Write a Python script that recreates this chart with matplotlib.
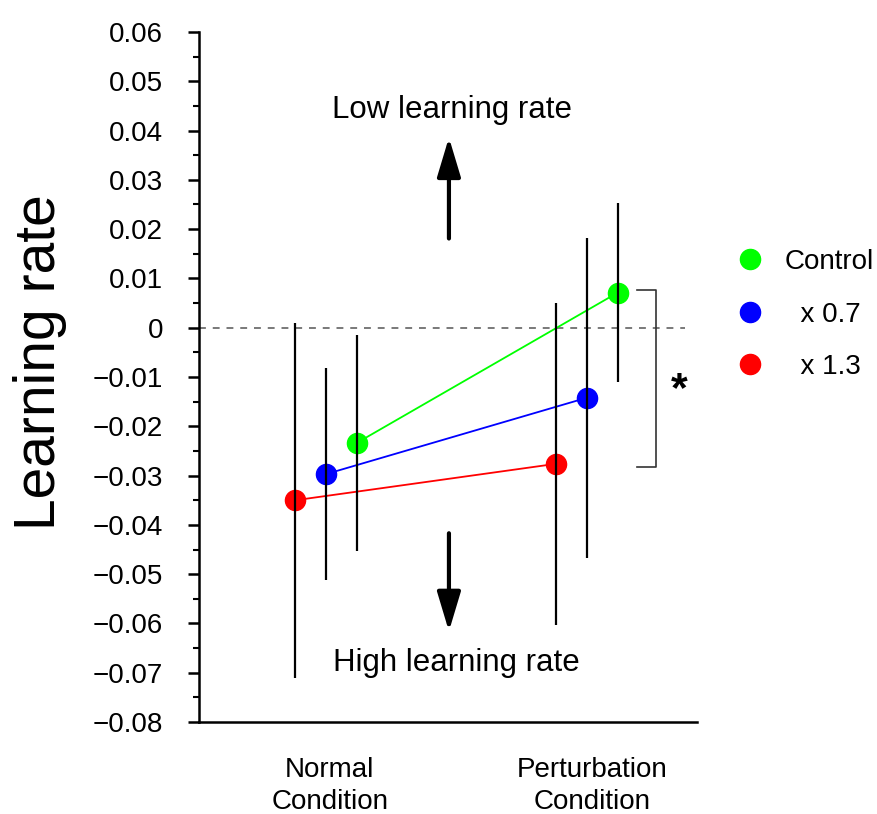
import matplotlib
matplotlib.use('Agg')
import matplotlib.pyplot as plt
from matplotlib.ticker import MultipleLocator, FuncFormatter
from matplotlib.lines import Line2D

plt.rcParams['font.family'] = ['Liberation Sans', 'DejaVu Sans']

# values
conditions = ['Normal\nCondition', 'Perturbation\nCondition']
groups = ['Control', 'x 0.7', 'x 1.3']
colors = ['#00ff00', '#0000ff', '#ff0000']

control_mean = [-0.0234, 0.0071]
control_err = [0.0220, 0.0182]
x07_mean = [-0.0297, -0.0142]
x07_err = [0.0215, 0.0325]
x13_mean = [-0.0350, -0.0276]
x13_err = [0.0360, 0.0327]

means = [control_mean, x07_mean, x13_mean]
errs = [control_err, x07_err, x13_err]
offsets = [0.117, 0.0, -0.117]


def fmt_tick(v, pos):
    if abs(v) < 1e-9:
        return '0'
    return f'{v:.2f}'.replace('-', '\u2212')


fig = plt.figure(figsize=(8.77, 8.14), dpi=100)
ax = fig.add_axes([0.2269, 0.113, 0.5679, 0.8477])

base = [1, 2]
for mean, err, off, col, name in zip(means, errs, offsets, colors, groups):
    xs = [b + off for b in base]
    ax.plot(xs, mean, '-o', color=col, ms=14.5, lw=1.3, zorder=2, label=name)
    ax.errorbar(xs, mean, yerr=err, fmt='none', ecolor='black',
                elinewidth=1.6, capsize=0, zorder=3)

# zero reference line
ax.axhline(0, xmin=0, xmax=0.976, color='#555555', lw=1.1,
           dashes=(4.5, 4.5), zorder=1)

# significance bracket between Control and x1.3 under perturbation
top = control_mean[1] + 0.0006
bot = x13_mean[1] - 0.0006
ax.plot([2.192, 2.264, 2.264, 2.192], [top, top, bot, bot],
        color='#333333', lw=1.2, clip_on=False)
ax.text(2.352, (top + bot) / 2 - 0.0024, '*', fontsize=31, ha='center',
        va='center', fontweight='bold')

# direction arrows and labels
ax.annotate('', xy=(1.471, 0.0386), xytext=(1.471, 0.0181),
            arrowprops=dict(arrowstyle='-|>,head_width=0.36,head_length=1.2',
                            lw=3, color='black', shrinkA=0, shrinkB=0,
                            mutation_scale=20))
ax.annotate('', xy=(1.471, -0.0616), xytext=(1.471, -0.0417),
            arrowprops=dict(arrowstyle='-|>,head_width=0.36,head_length=1.2',
                            lw=3, color='black', shrinkA=0, shrinkB=0,
                            mutation_scale=20))
ax.text(1.483, 0.0441, 'Low learning rate', fontsize=22.5,
        ha='center', va='center')
ax.text(1.498, -0.0681, 'High learning rate', fontsize=22.5,
        ha='center', va='center')

ax.set_xlim(0.5134, 2.4215)
ax.set_ylim(-0.08, 0.06)
ax.yaxis.set_major_locator(MultipleLocator(0.01))
ax.yaxis.set_minor_locator(MultipleLocator(0.005))
ax.yaxis.set_major_formatter(FuncFormatter(fmt_tick))
ax.set_xticks([1.015, 2.02])
ax.set_xticklabels(conditions, fontsize=20, linespacing=1.3)

ax.spines['top'].set_visible(False)
ax.spines['right'].set_visible(False)
ax.spines['left'].set_linewidth(1.8)
ax.spines['bottom'].set_linewidth(1.8)
ax.tick_params(axis='y', which='major', length=8, width=1.8, pad=18,
               labelsize=20)
ax.tick_params(axis='y', which='minor', length=4.5, width=1.5)
ax.tick_params(axis='x', length=0, pad=25.5)

fig.text(0.046, 0.555, 'Learning rate', rotation=90, ha='center',
         va='center', fontsize=41)

handles = [Line2D([], [], marker='o', ls='none', color=c, ms=14.5)
           for c in colors]
labels = ['Control', '  x 0.7', '  x 1.3']
fig.legend(handles, labels, loc='center left', bbox_to_anchor=(0.841, 0.6135),
           bbox_transform=fig.transFigure, frameon=False, fontsize=20,
           handlelength=0.9, handletextpad=0.8, labelspacing=0.95,
           borderpad=0, borderaxespad=0)

fig.savefig('out.png', dpi=100)
